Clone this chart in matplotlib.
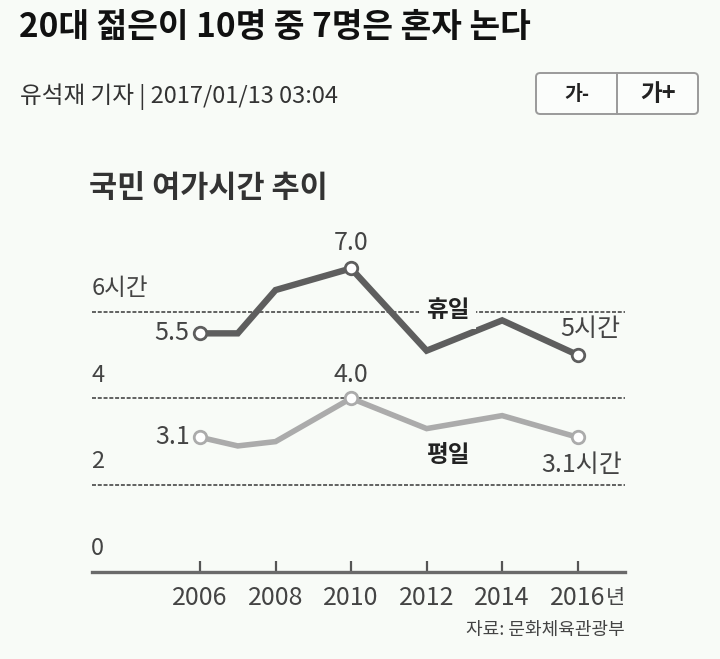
import matplotlib
matplotlib.use("Agg")
import matplotlib.pyplot as plt
from matplotlib.patches import FancyBboxPatch
from matplotlib.lines import Line2D

# ---- data ----
years = [2006, 2007, 2008, 2010, 2012, 2014, 2016]
holiday = [5.5, 5.5, 6.5, 7.0, 5.1, 5.8, 5.0]   # 휴일
weekday = [3.1, 2.9, 3.0, 4.0, 3.3, 3.6, 3.1]   # 평일
tick_years = [2006, 2008, 2010, 2012, 2014, 2016]
tick_labels = ["2006", "2008", "2010", "2012", "2014", "2016"]
grid_vals = [2, 4, 6]
ylabels = {6: "6시간", 4: "4", 2: "2", 0: "0"}
marker_idx = [0, 3, 6]

title = "20대 젊은이 10명 중 7명은 혼자 논다"
byline = "유석재 기자 | 2017/01/13 03:04"
chart_title = "국민 여가시간 추이"
source = "자료: 문화체육관광부"

BG = "#f8fbf7"
KR = ["Noto Sans CJK KR", "DejaVu Sans"]
NUM = ["Noto Sans CJK KR", "DejaVu Sans"]
plt.rcParams["font.family"] = KR

W, H = 720, 659
fig = plt.figure(figsize=(W / 100, H / 100), dpi=100, facecolor=BG)

def fx(x):
    return x / W

def fy(y):
    return 1 - y / H

# header
fig.text(fx(19), fy(28), title, fontsize=24, fontweight="bold", color="#111111",
         va="center", ha="left")
fig.text(fx(20), fy(97), byline, fontsize=17, color="#333333", va="center", ha="left")

# buttons
btn = FancyBboxPatch((fx(536), fy(114)), fx(162), (114 - 73) / H,
                     boxstyle="round,pad=0,rounding_size=0.006", transform=fig.transFigure,
                     facecolor="#fbfdfb", edgecolor="#9a9a9a", lw=1.4)
fig.patches.append(btn)
fig.add_artist(Line2D([fx(617), fx(617)], [fy(114), fy(73)], transform=fig.transFigure,
                      color="#9a9a9a", lw=1.4))
fig.text(fx(577), fy(94), "가-", fontsize=14, fontweight="bold", color="#222222",
         ha="center", va="center")
fig.text(fx(658), fy(94), "가+", fontsize=17, fontweight="bold", color="#222222",
         ha="center", va="center")

# chart title
fig.text(fx(89), fy(188), chart_title, fontsize=22, fontweight="bold", color="#333333",
         ha="left", va="center")

# axes
x0, x1 = 92, 625
y0 = 571.5
ppu = 43.3
ymax = 8
ytop = y0 - ymax * ppu
ax = fig.add_axes([fx(x0), fy(y0), (x1 - x0) / W, (y0 - ytop) / H])
ax.set_facecolor("none")
xppy = (577.7 - 200) / 10
ax.set_xlim(2006 - (200 - x0) / xppy, 2016 + (x1 - 577.7) / xppy)
ax.set_ylim(0, ymax)
for s in ["top", "right", "left"]:
    ax.spines[s].set_visible(False)
ax.spines["bottom"].set_color("#6a6a6a")
ax.spines["bottom"].set_linewidth(2.4)
ax.set_yticks([])
ax.set_xticks(tick_years)
ax.set_xticklabels(tick_labels, family=NUM, fontsize=18, color="#444444")
ax.tick_params(axis="x", direction="in", length=8, width=1.6, color="#555555", pad=10)

# "년" after last tick label
last = ax.get_xticklabels()[-1]
ax.annotate("년", xy=(1.0, 0.5), xycoords=last, xytext=(0, 0), textcoords="offset points",
            ha="left", va="center", fontsize=15, color="#444444", family=KR)

# gridlines
for g in grid_vals:
    ax.axhline(g, color="#555555", lw=1.3, ls=(0, (2.2, 1.0)), zorder=1)

# y labels
for v, lab in ylabels.items():
    ax.text(ax.get_xlim()[0] - 0.02, v + 0.53, lab, family=NUM, fontsize=17,
            color="#444444", ha="left", va="center")

# lines
ax.plot(years, holiday, color="#5e5e5e", lw=4.6, solid_joinstyle="miter", zorder=3)
ax.plot(years, weekday, color="#ababab", lw=4.0, solid_joinstyle="miter", zorder=3)
ax.plot([years[i] for i in marker_idx], [holiday[i] for i in marker_idx], "o", ms=9,
        mfc="white", mec="#5e5e5e", mew=2.0, zorder=4)
ax.plot([years[i] for i in marker_idx], [weekday[i] for i in marker_idx], "o", ms=9,
        mfc="white", mec="#ababab", mew=2.0, zorder=4)

# value labels
lab_kw = dict(family=NUM, fontsize=18, color="#444444")
ax.annotate(f"{holiday[0]:.1f}", (years[0], holiday[0]), xytext=(-8, 0),
            textcoords="offset points", ha="right", va="center", **lab_kw)
ax.annotate(f"{holiday[3]:.1f}", (years[3], holiday[3]), xytext=(0, 18),
            textcoords="offset points", ha="center", va="center", **lab_kw)
ax.annotate(f"{holiday[6]:.0f}시간", (years[6], holiday[6]), xytext=(31, 19),
            textcoords="offset points", ha="right", va="center", **lab_kw)
ax.annotate(f"{weekday[0]:.1f}", (years[0], weekday[0]), xytext=(-7, 0),
            textcoords="offset points", ha="right", va="center", **lab_kw)
ax.annotate(f"{weekday[3]:.1f}", (years[3], weekday[3]), xytext=(0, 17),
            textcoords="offset points", ha="center", va="center", **lab_kw)
ax.annotate(f"{weekday[6]:.1f}시간", (years[6], weekday[6]), xytext=(32, -20),
            textcoords="offset points", ha="right", va="center", **lab_kw)

# series labels
ax.text(2012.55, 6.05, "휴일", fontsize=17, fontweight="bold", color="#222222",
        ha="center", va="center", zorder=5,
        bbox=dict(boxstyle="square,pad=0.3", fc=BG, ec="none"))
ax.text(2012.55, 2.68, "평일", fontsize=17, fontweight="bold", color="#222222",
        ha="center", va="center", zorder=5)

# source
fig.text(fx(625), fy(630), source, fontsize=13, color="#444444", ha="right", va="center")

fig.savefig("out.png", dpi=100, facecolor=BG)
